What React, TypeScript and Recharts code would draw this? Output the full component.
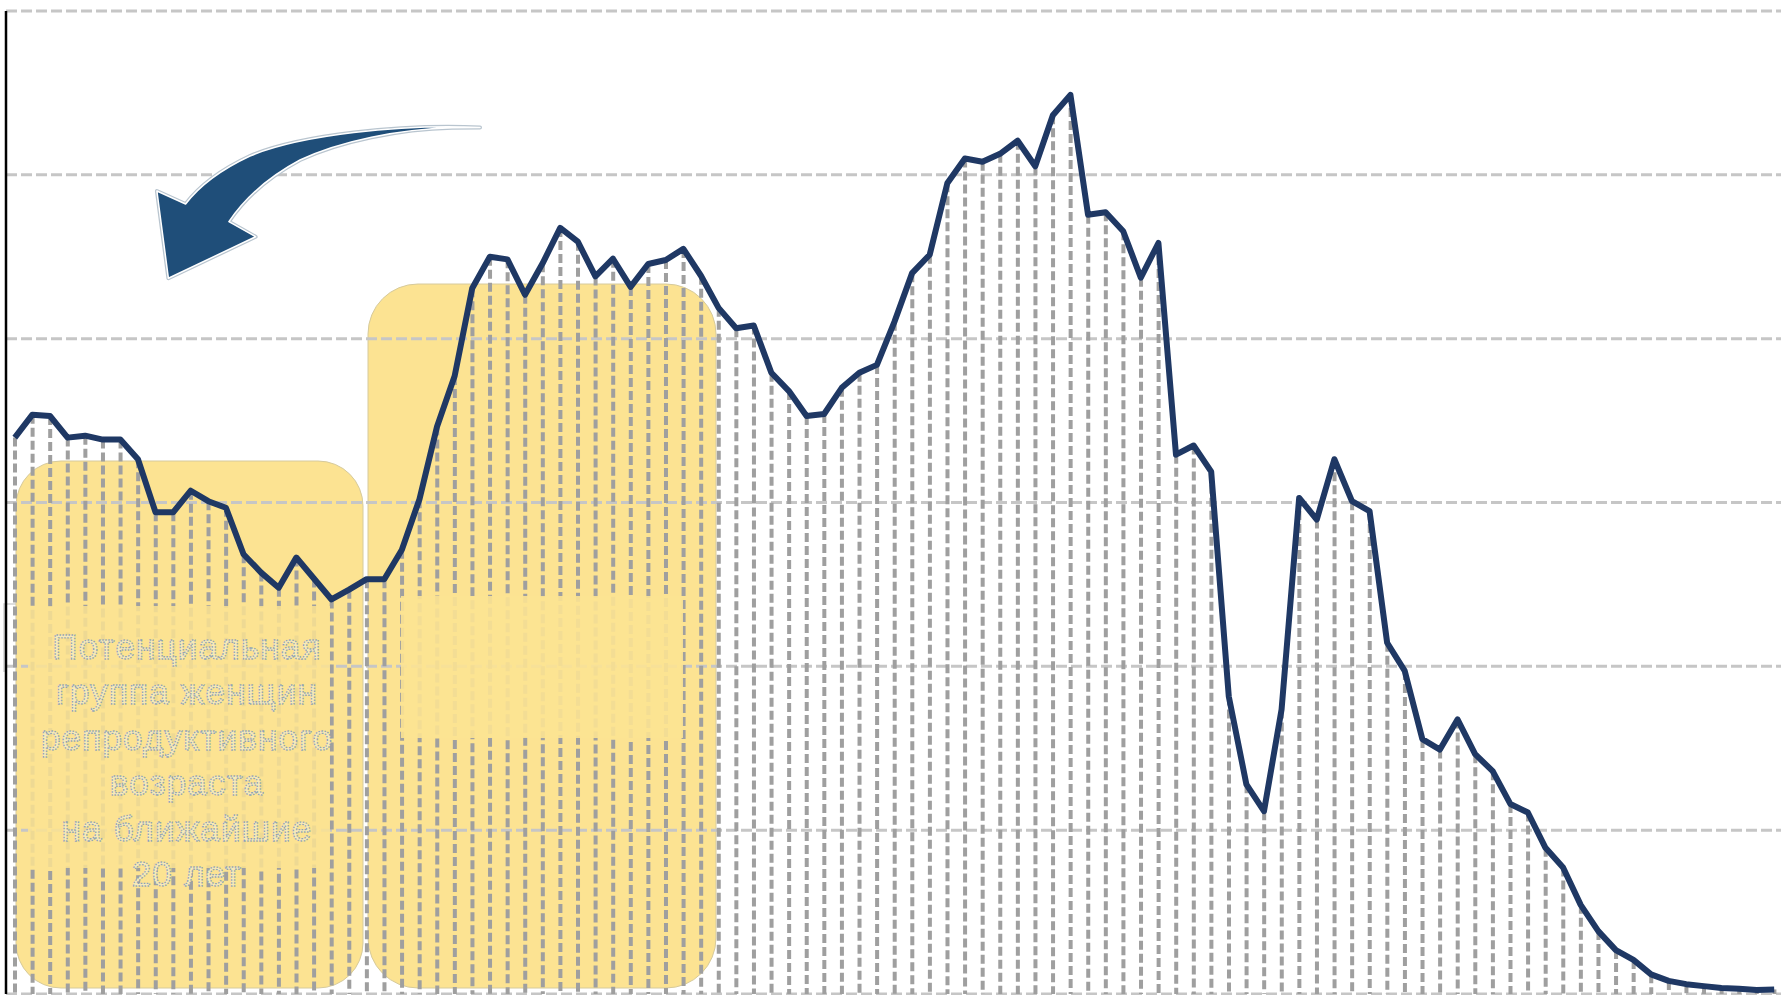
import { Bar, CartesianGrid, ComposedChart, Line, XAxis, YAxis } from "recharts";

// age (single years) of the female population
const ages = [
  0, 1, 2, 3, 4, 5, 6, 7, 8, 9, 10, 11, 12, 13, 14, 15, 16, 17, 18, 19,
  20, 21, 22, 23, 24, 25, 26, 27, 28, 29, 30, 31, 32, 33, 34, 35, 36, 37, 38, 39,
  40, 41, 42, 43, 44, 45, 46, 47, 48, 49, 50, 51, 52, 53, 54, 55, 56, 57, 58, 59,
  60, 61, 62, 63, 64, 65, 66, 67, 68, 69, 70, 71, 72, 73, 74, 75, 76, 77, 78, 79,
  80, 81, 82, 83, 84, 85, 86, 87, 88, 89, 90, 91, 92, 93, 94, 95, 96, 97, 98, 99, 100,
];

// number of women, thousands
const women = [
  849, 884, 882, 849, 852, 846, 846, 816, 735, 735,
  768, 752, 742, 671, 643, 620, 666, 634, 602, 617,
  633, 633, 678, 755, 866, 943, 1077, 1125, 1121, 1067,
  1115, 1169, 1148, 1095, 1122, 1079, 1114, 1120, 1137, 1096,
  1047, 1016, 1020, 948, 920, 882, 885, 925, 948, 960,
  1026, 1100, 1128, 1237, 1275, 1270, 1282, 1302, 1263, 1341,
  1372, 1189, 1193, 1164, 1093, 1146, 823, 837, 797, 454,
  320, 279, 434, 757, 724, 816, 752, 737, 536, 493,
  389, 373, 419, 366, 340, 290, 277, 223, 193, 136,
  96, 67, 52, 30, 20, 15, 12, 9, 8, 6, 7,
];

const yTicks = [0, 250, 500, 750, 1000, 1250, 1500];

const noteLines = [
  "Потенциальная",
  "группа  женщин",
  "репродуктивного",
  "возраста",
  "на ближайшие",
  "20 лет",
];

const data = ages.map((age, i) => ({ age, women: women[i] }));

const YELLOW = "#fce392";

// dashed drop line from the point down to the axis
function DropLine(props: any) {
  const { x, y, width, height } = props;
  if (height == null || height <= 0) return null;
  const cx = x + width / 2;
  return (
    <line
      x1={cx}
      y1={y}
      x2={cx}
      y2={y + height}
      stroke="#9f9f9f"
      strokeWidth={4}
      strokeDasharray="9 4"
    />
  );
}

const NoTick = () => <g />;

export default function App() {
  return (
    <div
      style={{
        position: "fixed",
        left: 0,
        top: 0,
        width: 1781,
        height: 995,
        overflow: "hidden",
        background: "#ffffff",
        fontFamily: "'Liberation Sans', Arial, sans-serif",
      }}
    >
      {/* highlight boxes behind the chart */}
      <svg width={1781} height={995} style={{ position: "absolute", left: 0, top: 0 }}>
        <path d="M 28 604 H 4 V 672" fill="none" stroke="#d2d2d2" strokeWidth={1.5} />
        <rect x={16} y={461} width={347} height={527} rx={45} fill={YELLOW} stroke="#d6ca9c" strokeWidth={1} />
        <rect x={368} y={284} width={348} height={704} rx={50} fill={YELLOW} stroke="#d6ca9c" strokeWidth={1} />
      </svg>

      <div style={{ position: "absolute", left: 0, top: 0 }}>
        <ComposedChart
          width={1783}
          height={995}
          data={data}
          margin={{ top: 11, right: 0, left: 4, bottom: 1 }}
          barCategoryGap={2}
        >
          <CartesianGrid
            vertical={false}
            stroke="#c6c6c6"
            strokeWidth={3}
            strokeDasharray="11 4"
          />
          <XAxis dataKey="age" height={0} tick={NoTick} tickLine={false} axisLine={{ stroke: "#bfbfbf", strokeWidth: 2 }} />
          <YAxis
            width={2}
            domain={[0, 1500]}
            ticks={yTicks}
            interval={0}
            tick={NoTick}
            tickLine={false}
            axisLine={{ stroke: "#000000", strokeWidth: 2.5 }}
          />
          <Bar dataKey="women" shape={DropLine} isAnimationActive={false} />
          <Line
            type="linear"
            dataKey="women"
            stroke="#1f3864"
            strokeWidth={6}
            strokeLinejoin="round"
            dot={false}
            activeDot={false}
            isAnimationActive={false}
          />
        </ComposedChart>
      </div>

      {/* text boxes and arrow on top */}
      <svg width={1781} height={995} style={{ position: "absolute", left: 0, top: 0 }}>
        <rect x={28} y={606} width={302} height={262} fill={YELLOW} fillOpacity={0.86} />
        <rect x={401} y={596} width={282} height={142} fill={YELLOW} fillOpacity={0.9} />
        {noteLines.map((t, i) => (
          <text
            key={t}
            x={187}
            y={659 + i * 45.4}
            textAnchor="middle"
            fontSize={35}
            letterSpacing={1.2}
            fontFamily="'Liberation Sans', Arial, sans-serif"
            fill="#f7eab8"
            stroke="#8da1b7"
            strokeWidth={1.3}
            strokeDasharray="1.5 1.5"
          >
            {t}
          </text>
        ))}
        <path
          d="M 480 127.5 C 400 124, 300 135, 250 156 C 220 170, 200 185, 185.6 204 L 156.9 191 L 168.4 278.3 L 255.6 236.7 L 228.9 221.7 C 245 198, 270 176, 300 160 C 340 141, 400 129, 452 127.7 Z"
          fill="none"
          stroke="#b9c5cf"
          strokeWidth={4}
          strokeLinejoin="round"
        />
        <path
          d="M 480 127.5 C 400 124, 300 135, 250 156 C 220 170, 200 185, 185.6 204 L 156.9 191 L 168.4 278.3 L 255.6 236.7 L 228.9 221.7 C 245 198, 270 176, 300 160 C 340 141, 400 129, 452 127.7 Z"
          fill="#1f4e79"
          stroke="#ffffff"
          strokeWidth={1.5}
          strokeLinejoin="round"
        />
      </svg>
    </div>
  );
}
